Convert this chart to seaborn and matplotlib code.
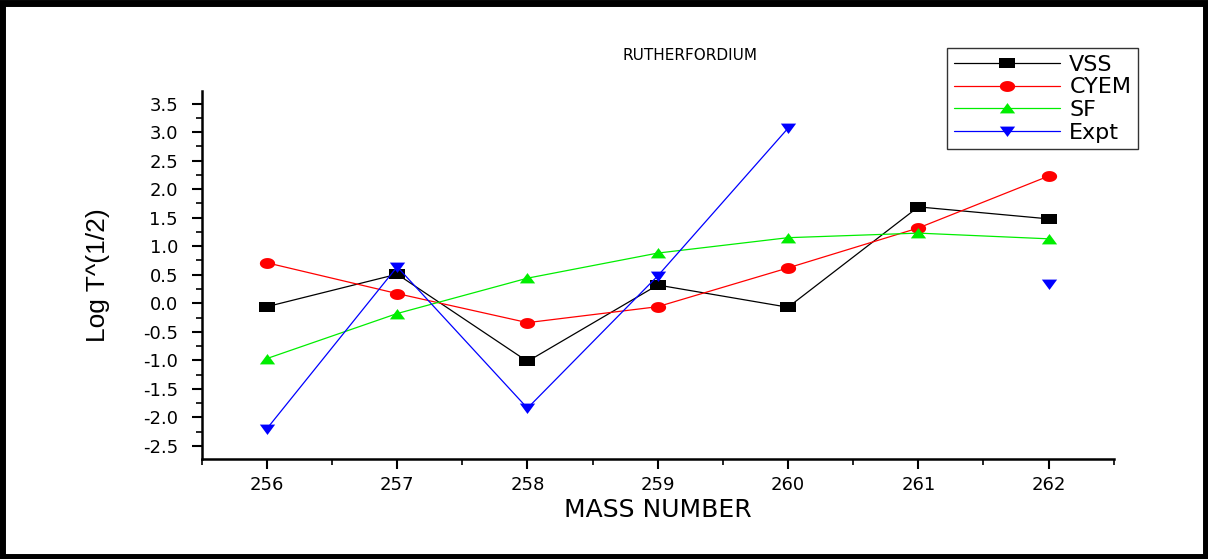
import numpy as np
import pandas as pd
import seaborn as sns
import matplotlib.pyplot as plt
from matplotlib.patches import Rectangle
from matplotlib.ticker import MultipleLocator

sns.set_style('ticks')
plt.rcParams['font.family'] = ['DejaVu Sans']
plt.rcParams.update({'text.color': 'black', 'axes.labelcolor': 'black',
                     'xtick.color': 'black', 'ytick.color': 'black',
                     'axes.edgecolor': 'black'})

mass = [256, 257, 258, 259, 260, 261, 262]
vss = [-0.06, 0.51, -1.02, 0.32, -0.07, 1.69, 1.48]
cyem = [0.71, 0.17, -0.34, -0.06, 0.62, 1.32, 2.23]
sf = [-0.97, -0.18, 0.44, 0.88, 1.15, 1.23, 1.13]
expt = [-2.20, 0.64, -1.84, 0.48, 3.07, np.nan, 0.34]

series = {'VSS': vss, 'CYEM': cyem, 'SF': sf, 'Expt': expt}
colors = {'VSS': 'black', 'CYEM': 'red', 'SF': '#00ee00', 'Expt': 'blue'}

# the original markers are a bit wider than tall
w = 1.4
t = np.linspace(0, 2 * np.pi, 41)
markers = {
    'VSS': [(-w, -1), (w, -1), (w, 1), (-w, 1), (-w, -1)],
    'CYEM': list(zip(w * np.cos(t), np.sin(t))),
    'SF': [(-w, -0.9), (w, -0.9), (0, 1), (-w, -0.9)],
    'Expt': [(-w, 0.9), (w, 0.9), (0, -1), (-w, 0.9)],
}

rows = []
for name, vals in series.items():
    seg = 0
    for m, v in zip(mass, vals):
        if np.isnan(v):
            seg += 1  # break the line over missing values
            continue
        rows.append({'mass': m, 'value': v, 'model': name, 'seg': f'{name}{seg}'})
df = pd.DataFrame(rows)

fig = plt.figure(figsize=(12.08, 5.59), dpi=100)
ax = fig.add_axes([0.167, 0.179, 0.755, 0.659])

sns.lineplot(data=df, x='mass', y='value', hue='model', style='model',
             units='seg', estimator=None, palette=colors, markers=markers,
             dashes=False, markersize=11, markeredgewidth=0, linewidth=0.9,
             ax=ax)

ax.set_xlim(255.5, 262.5)
ax.set_ylim(-2.73, 3.73)
ax.xaxis.set_major_locator(MultipleLocator(1))
ax.xaxis.set_minor_locator(MultipleLocator(0.5))
ax.yaxis.set_minor_locator(MultipleLocator(0.25))
yt = np.arange(-2.5, 3.51, 0.5)
ax.set_yticks(yt)
ax.set_yticklabels([f'{v:.1f}' for v in yt])

sns.despine(ax=ax)
for s in ['left', 'bottom']:
    ax.spines[s].set_linewidth(1.8)
ax.tick_params(which='major', direction='out', length=7, width=1.5, labelsize=13)
ax.tick_params(which='minor', direction='out', length=4, width=1.2)
ax.tick_params(axis='x', pad=5)
ax.tick_params(axis='y', pad=10)

ax.set_xlabel('MASS NUMBER', fontsize=18, labelpad=3)
ax.set_ylabel('Log T^(1/2)', fontsize=19, labelpad=24, family='Liberation Sans')
fig.text(0.571, 0.9, 'RUTHERFORDIUM', fontsize=11, ha='center', va='center')

handles, labels = ax.get_legend_handles_labels()
leg = ax.legend(handles, labels, loc='upper right', bbox_to_anchor=(0.942, 0.914),
                bbox_transform=fig.transFigure, borderaxespad=0, fontsize=16,
                frameon=True, fancybox=False, edgecolor='black', handlelength=4.8,
                handletextpad=0.4, borderpad=0.3, labelspacing=0.12)
leg.get_frame().set_linewidth(1.0)

fig.patches.append(Rectangle((0.002, 0.004), 0.996, 0.99, transform=fig.transFigure,
                             fill=False, edgecolor='black', linewidth=5))

fig.savefig('out.png', dpi=100)
